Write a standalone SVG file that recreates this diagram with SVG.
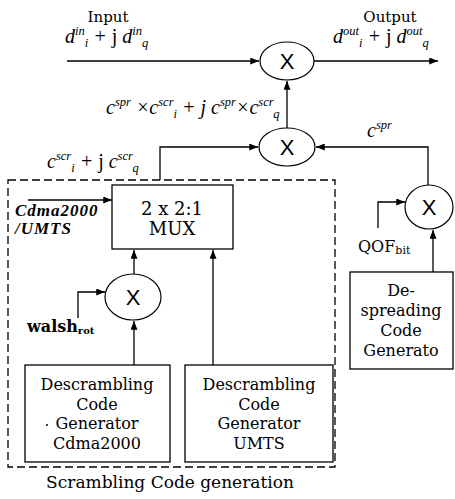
<svg xmlns="http://www.w3.org/2000/svg" width="455" height="499" viewBox="0 0 455 499">
  <style>
    .bg { fill: #ffffff; }
    .box { fill: #ffffff; stroke: #000000; stroke-width: 1.3; }
    .dash { fill: none; stroke: #000000; stroke-width: 1.3; stroke-dasharray: 8 4; }
    .mul { fill: #ffffff; stroke: #000000; stroke-width: 1.2; }
    .x { font-family: "Liberation Sans", Arial, sans-serif; font-size: 22px; fill: #000; text-anchor: middle; }
    .wire { fill: none; stroke: #000000; stroke-width: 1.3; marker-end: url(#ah); }
    .t { font-family: "DejaVu Serif", "Liberation Serif", serif; font-size: 16px; fill: #000; text-anchor: middle; }
    .lbl { font-family: "DejaVu Serif", "Liberation Serif", serif; font-size: 15px; fill: #000; text-anchor: middle; }
    .m { font-family: "Liberation Serif", "Times New Roman", serif; font-size: 20px; font-style: italic; fill: #000; }
    .sp, .sb { font-size: 12.5px; }
    .up { font-style: normal; }
    .sel { font-family: "Liberation Serif", "Times New Roman", serif; font-size: 17px; font-weight: bold; font-style: italic; letter-spacing: 1px; fill: #000; }
  </style>
  <defs>
    <marker id="ah" viewBox="0 0 10 8" refX="10" refY="4" markerWidth="9" markerHeight="7" orient="auto" markerUnits="userSpaceOnUse">
      <path d="M0,0 L10,4 L0,8 z" fill="#000"/>
    </marker>
  </defs>

  <rect class="bg" x="0" y="0" width="455" height="499"/>

  <!-- scrambling code generation block -->
  <g id="scrambling-block">
    <rect class="dash" x="8" y="180" width="327" height="287"/>
    <text class="t" x="170" y="488" style="font-size:17px">Scrambling Code generation</text>
  </g>

  <!-- connectors -->
  <g id="connectors">
    <path class="wire" d="M67,61 H259"/>
    <path class="wire" d="M314,61 H438"/>
    <path class="wire" d="M287,128 V81"/>
    <path class="wire" d="M160,180 V147 H258"/>
    <path class="wire" d="M428,185 V147 H316"/>
    <path class="wire" d="M378,228 V202 H405"/>
    <path class="wire" d="M433,272 V230"/>
    <path class="wire" d="M28,200 H112"/>
    <path class="wire" d="M78,318 V292 H105"/>
    <path class="wire" d="M134,274 V250"/>
    <path class="wire" d="M134,365 V321"/>
    <path class="wire" d="M213,365 V250"/>
  </g>

  <!-- output multiplier -->
  <g id="mul-out">
    <ellipse class="mul" cx="287" cy="61" rx="27" ry="19"/>
    <text class="x" x="287" y="69">X</text>
  </g>

  <!-- code multiplier -->
  <g id="mul-code">
    <ellipse class="mul" cx="287" cy="147" rx="28" ry="19"/>
    <text class="x" x="287" y="155">X</text>
  </g>

  <!-- walsh multiplier -->
  <g id="mul-walsh">
    <ellipse class="mul" cx="133" cy="297" rx="28" ry="23"/>
    <text class="x" x="133" y="305">X</text>
  </g>

  <!-- QOF multiplier -->
  <g id="mul-qof">
    <ellipse class="mul" cx="429" cy="207" rx="24" ry="22"/>
    <text class="x" x="429" y="215">X</text>
  </g>

  <g id="mux">
    <rect class="box" x="112" y="185" width="121" height="64"/>
    <text class="t" x="172" y="215" style="font-size:18px">2 x 2:1</text>
    <text class="t" x="172" y="235" style="font-size:18px">MUX</text>
  </g>

  <g id="gen-cdma2000">
    <rect class="box" x="25" y="365" width="145" height="97"/>
    <circle cx="47" cy="425" r="1" fill="#000"/>
    <text class="t" x="97" y="390">Descrambling</text>
    <text class="t" x="97" y="410">Code</text>
    <text class="t" x="97" y="429">Generator</text>
    <text class="t" x="97" y="449">Cdma2000</text>
  </g>

  <g id="gen-umts">
    <rect class="box" x="185" y="365" width="148" height="97"/>
    <text class="t" x="259" y="390">Descrambling</text>
    <text class="t" x="259" y="410">Code</text>
    <text class="t" x="259" y="429">Generator</text>
    <text class="t" x="259" y="449">UMTS</text>
  </g>

  <g id="gen-despread">
    <rect class="box" x="350" y="272" width="103" height="97"/>
    <text class="t" x="401" y="296">De-</text>
    <text class="t" x="401" y="316">spreading</text>
    <text class="t" x="401" y="336">Code</text>
    <text class="t" x="401" y="356">Generato</text>
  </g>

  <!-- signal labels -->
  <g id="labels">
    <text class="lbl" x="108" y="22">Input</text>
    <text class="m" x="65" y="43">d<tspan class="sp" dy="-8">in</tspan><tspan class="sb" dy="12">i</tspan><tspan dy="-4"> + </tspan><tspan class="up">j</tspan> d<tspan class="sp" dy="-8">in</tspan><tspan class="sb" dy="12">q</tspan></text>

    <text class="lbl" x="390" y="22">Output</text>
    <text class="m" x="333" y="43">d<tspan class="sp" dy="-8">out</tspan><tspan class="sb" dy="12">i</tspan><tspan dy="-4"> + </tspan><tspan class="up">j</tspan> d<tspan class="sp" dy="-8">out</tspan><tspan class="sb" dy="12">q</tspan></text>

    <text class="m" x="106" y="114">c<tspan class="sp" dy="-8">spr</tspan><tspan dy="8"> ×c</tspan><tspan class="sp" dy="-8">scr</tspan><tspan class="sb" dy="12">i</tspan><tspan dy="-4"> + j c</tspan><tspan class="sp" dy="-8">spr</tspan><tspan dy="8">×c</tspan><tspan class="sp" dy="-8">scr</tspan><tspan class="sb" dy="12">q</tspan></text>

    <text class="m" x="367" y="137">c<tspan class="sp" dy="-8">spr</tspan></text>

    <text class="m" x="47" y="168">c<tspan class="sp" dy="-8">scr</tspan><tspan class="sb" dy="12">i</tspan><tspan dy="-4"> + </tspan><tspan class="up">j</tspan> c<tspan class="sp" dy="-8">scr</tspan><tspan class="sb" dy="12">q</tspan></text>

    <text class="sel" x="15" y="216">Cdma2000</text>
    <text class="sel" x="15" y="234">/UMTS</text>

    <text class="t" x="358" y="252" style="text-anchor:start">QOF<tspan style="font-size:11px" dy="2">bit</tspan></text>

    <text class="t" x="27" y="332" style="text-anchor:start;font-weight:bold">walsh<tspan style="font-size:10px" dy="2">rot</tspan></text>
  </g>
</svg>
